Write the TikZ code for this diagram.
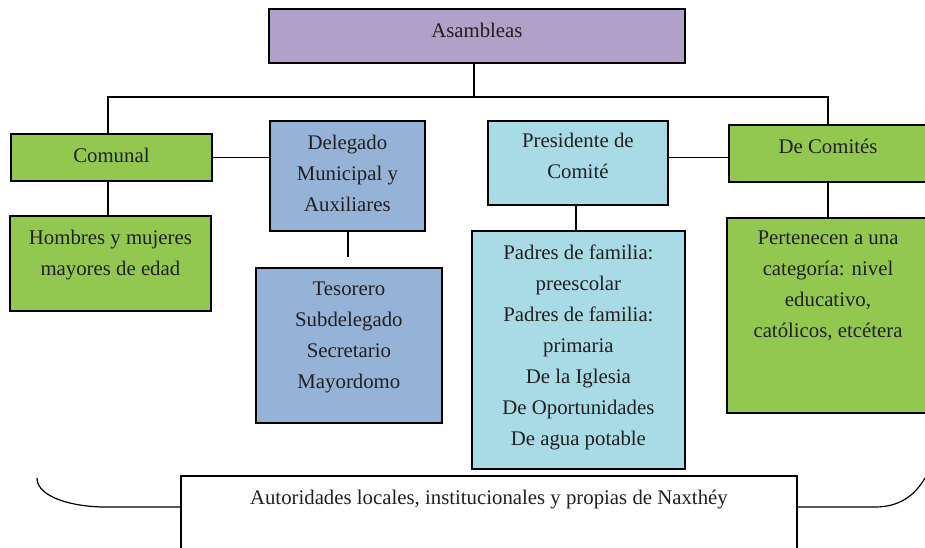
\documentclass[tikz,border=0pt]{standalone}
\usepackage{fontspec}
\setmainfont{Liberation Serif}
\definecolor{cpurple}{HTML}{B1A0C7}
\definecolor{cgreen}{HTML}{92C850}
\definecolor{cblue}{HTML}{95B3D7}
\definecolor{clight}{HTML}{A9DBE6}
\definecolor{ctext}{HTML}{231F20}
\begin{document}
\begin{tikzpicture}[x=1pt,y=-1pt,
  box/.style={draw=black,line width=1.8pt,inner sep=0pt,anchor=north west},
  txt/.style={anchor=north,inner sep=0pt,align=center,text=ctext,font=\fontsize{20.8}{31}\selectfont},
  link/.style={line width=1.6pt},
  brace/.style={line width=1.2pt}]
\useasboundingbox (0,0) rectangle (925,547);
% boxes
\node[box,fill=cpurple,minimum width=416pt,minimum height=54pt] (asam) at (268,8) {};
\node[txt] (asamt) at ([yshift=-14.5pt]asam.north) {Asambleas};
\node[box,fill=cgreen,minimum width=201pt,minimum height=47pt] (comu) at (10,133) {};
\node[txt] (comut) at ([yshift=-14.5pt]comu.north) {Comunal};
\node[box,fill=cgreen,minimum width=201pt,minimum height=95pt] (homb) at (9,215) {};
\node[txt] (hombt) at ([yshift=-14.5pt]homb.north) {Hombres y mujeres\\mayores de edad};
\node[box,fill=cblue,minimum width=155pt,minimum height=110pt] (dele) at (269,120) {};
\node[txt] (delet) at ([yshift=-14.5pt]dele.north) {Delegado\\Municipal y\\Auxiliares};
\node[box,fill=cblue,minimum width=186pt,minimum height=155pt] (teso) at (255,267) {};
\node[txt] (tesot) at ([yshift=-14.5pt]teso.north) {Tesorero\\Subdelegado\\Secretario\\Mayordomo};
\node[box,fill=clight,minimum width=180pt,minimum height=84pt] (pres) at (487,120) {};
\node[txt] (prest) at ([yshift=-13pt]pres.north) {Presidente de\\Comité};
\node[box,fill=clight,minimum width=213pt,minimum height=238pt] (padr) at (471,230) {};
\node[txt] (padrt) at ([yshift=-14.5pt]padr.north) {Padres de familia:\\preescolar\\Padres de familia:\\primaria\\De la Iglesia\\De Oportunidades\\De agua potable};
\node[box,fill=cgreen,minimum width=206pt,minimum height=57pt] (comi) at (728,124) {};
\node[txt] (comit) at (828,138.5) {De Comités};
\node[box,fill=cgreen,minimum width=206pt,minimum height=195pt] (pert) at (726,217) {};
\node[txt] (pertt) at (828,231) {Pertenecen a una\\categoría: nivel\\educativo,\\católicos, etcétera};
\node[box,fill=white,minimum width=616pt,minimum height=90pt] (auto) at (180,475) {};
\node[txt] (autot) at ([yshift=-14.5pt]auto.north) {Autoridades locales, institucionales y propias de Naxthéy};
% connectors
\coordinate (bus) at (474,97);
\draw[link] (asam.south -| bus) -- (bus);
\draw[link] (comu.north -| 108,0) -- (108,97) -- (828,97) -- (comi.north -| 828,0);
\draw[link] (comu.east) -- (comu.east -| dele.west);
\draw[link] (comu.south -| 108,0) -- (homb.north -| 108,0);
\coordinate (delend) at (348,257);
\draw[link] (dele.south -| delend) -- (delend);
\draw[link] (pres.east |- comu.east) -- (comi.west |- comu.east);
\draw[link] (pres.south -| 576,0) -- (padr.north -| 576,0);
\draw[link] (comi.south -| 828,0) -- (pert.north -| 828,0);
% braces
\coordinate (bl) at (37,478);
\coordinate (br) at (925,478);
\draw[brace] (bl) .. controls (37,498) and (75,507) .. (105,507) -- (auto.west |- 0,507);
\draw[brace] (auto.east |- 0,507) -- (875,507) .. controls (900,507) and (915,495) .. (br);
\end{tikzpicture}
\end{document}
